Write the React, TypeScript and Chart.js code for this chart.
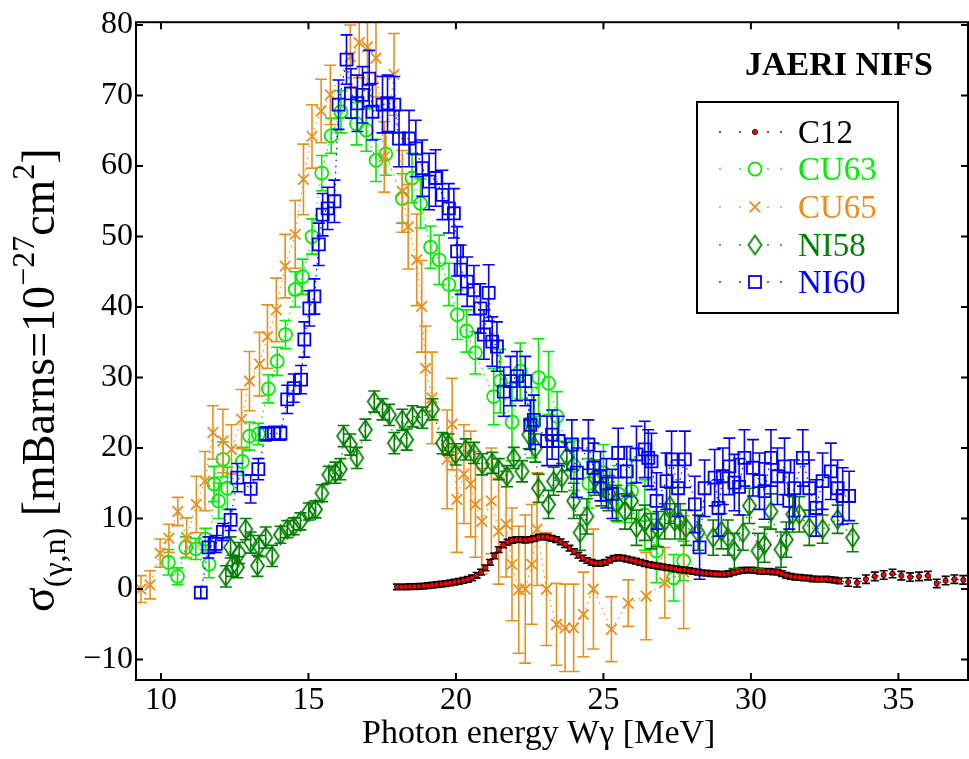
import React, { useEffect, useRef } from 'react';
import { Chart, registerables } from 'chart.js';
Chart.register(...registerables);

const FONT = '"Liberation Serif", "Times New Roman", serif';

const xTicks = [10, 15, 20, 25, 30, 35];
const yTicks = [-10, 0, 10, 20, 30, 40, 50, 60, 70, 80];
const seriesNames = ['C12', 'CU63', 'CU65', 'NI58', 'NI60'];

const C12_COLOR = '#ff0000';
const CU63_COLOR = '#00ee00';
const CU65_COLOR = '#e8901e';
const NI58_COLOR = '#007f00';
const NI60_COLOR = '#0000ff';

// C12
const c12E = [
  18.00, 18.15, 18.30, 18.45, 18.60, 18.75, 18.90, 19.05, 19.20, 19.35,
  19.50, 19.65, 19.80, 19.95, 20.10, 20.25, 20.40, 20.55, 20.70, 20.85,
  21.00, 21.15, 21.30, 21.45, 21.60, 21.75, 21.90, 22.05, 22.20, 22.35,
  22.50, 22.65, 22.80, 22.95, 23.10, 23.25, 23.40, 23.55, 23.70, 23.85,
  24.00, 24.15, 24.30, 24.45, 24.60, 24.75, 24.90, 25.05, 25.20, 25.35,
  25.50, 25.65, 25.80, 25.95, 26.10, 26.25, 26.40, 26.55, 26.70, 26.85,
  27.00, 27.15, 27.30, 27.45, 27.60, 27.75, 27.90, 28.05, 28.20, 28.35,
  28.50, 28.65, 28.80, 28.95, 29.10, 29.25, 29.40, 29.55, 29.70, 29.85,
  30.00, 30.15, 30.30, 30.45, 30.60, 30.75, 30.90, 31.05, 31.20, 31.35,
  31.50, 31.65, 31.80, 31.95, 32.10, 32.25, 32.40, 32.55, 32.70, 32.85,
  33.00,
  33.30, 33.60, 33.90, 34.20, 34.50, 34.80, 35.10, 35.40, 35.70, 36.00, 36.30, 36.60, 36.90, 37.20,
];
const c12S = [
  0.30, 0.30, 0.32, 0.33, 0.35, 0.38, 0.42, 0.48, 0.55, 0.62,
  0.70, 0.78, 0.88, 0.98, 1.10, 1.22, 1.38, 1.60, 1.95, 2.40,
  3.00, 3.80, 4.70, 5.60, 6.25, 6.65, 6.90, 7.00, 7.00, 6.95,
  7.00, 7.15, 7.35, 7.40, 7.35, 7.20, 7.00, 6.70, 6.30, 5.80,
  5.30, 4.80, 4.40, 4.05, 3.80, 3.65, 3.65, 3.80, 4.10, 4.35,
  4.45, 4.40, 4.25, 4.10, 3.95, 3.80, 3.60, 3.45, 3.35, 3.25,
  3.15, 3.05, 2.95, 2.85, 2.75, 2.70, 2.60, 2.50, 2.40, 2.30,
  2.25, 2.20, 2.15, 2.10, 2.10, 2.20, 2.40, 2.55, 2.65, 2.70,
  2.70, 2.65, 2.55, 2.50, 2.50, 2.45, 2.40, 2.20, 1.95, 1.80,
  1.70, 1.65, 1.60, 1.55, 1.45, 1.40, 1.40, 1.40, 1.35, 1.25,
  1.15,
  1.00, 0.90, 1.40, 1.80, 2.00, 2.20, 1.90, 1.70, 1.80, 1.90, 0.80, 1.20, 1.40, 1.30,
];
const c12Err = [
  0.4, 0.4, 0.4, 0.4, 0.4, 0.4, 0.4, 0.4, 0.4, 0.4,
  0.4, 0.4, 0.4, 0.4, 0.4, 0.4, 0.4, 0.4, 0.4, 0.4,
  0.4, 0.4, 0.4, 0.4, 0.4, 0.4, 0.4, 0.4, 0.4, 0.4,
  0.4, 0.4, 0.4, 0.4, 0.4, 0.4, 0.4, 0.4, 0.4, 0.4,
  0.4, 0.4, 0.4, 0.4, 0.4, 0.4, 0.4, 0.4, 0.4, 0.4,
  0.4, 0.4, 0.4, 0.4, 0.4, 0.4, 0.4, 0.4, 0.4, 0.4,
  0.4, 0.4, 0.4, 0.4, 0.4, 0.4, 0.4, 0.4, 0.4, 0.4,
  0.4, 0.4, 0.4, 0.4, 0.4, 0.4, 0.4, 0.4, 0.4, 0.4,
  0.4, 0.4, 0.4, 0.4, 0.4, 0.4, 0.4, 0.4, 0.4, 0.4,
  0.4, 0.4, 0.4, 0.4, 0.4, 0.4, 0.4, 0.4, 0.4, 0.4,
  0.4,
  0.6, 0.6, 0.6, 0.6, 0.6, 0.6, 0.6, 0.6, 0.6, 0.6, 0.6, 0.6, 0.6, 0.6,
];

// CU63
const cu63E = [
  10.25, 10.56, 10.84, 11.18, 11.50, 11.63, 11.80, 11.95, 12.10, 12.25,
  12.76, 13.00, 13.30, 13.64, 13.94, 14.22, 14.55, 14.80, 15.12, 15.45,
  15.77, 16.10, 16.63, 16.96, 17.29, 17.62, 18.18, 18.51, 18.80, 19.14,
  19.43, 19.76, 20.05, 20.36, 20.66, 21.28, 21.50, 21.90, 22.18, 22.57,
  22.80, 23.14, 23.43, 24.00, 24.50, 25.00, 25.50, 25.95, 26.40, 26.80,
  27.38, 27.72,
];
const cu63S = [
  3.8, 1.8, 5.9, 5.7, 7.1, 3.5, 14.9, 12.5, 18.4, 14.3,
  18.1, 21.7, 22.0, 28.4, 32.3, 36.1, 42.5, 44.3, 50.0, 59.0,
  64.3, 67.7, 66.0, 65.1, 60.8, 61.7, 55.4, 58.3, 54.7, 48.5,
  46.7, 43.2, 38.9, 36.6, 33.5, 27.3, 29.5, 23.7, 30.9, 23.6,
  30.0, 29.2, 24.5, 17.5, 15.0, 16.5, 13.5, 13.9, 10.5, 5.4,
  1.6, 4.0,
];
const cu63Err = [
  1.8, 1.2, 1.5, 1.5, 1.5, 1.9, 2.5, 2.5, 2.5, 3.0,
  2.0, 2.0, 1.5, 2.0, 2.0, 2.0, 2.5, 2.5, 2.5, 2.5,
  2.5, 3.0, 3.0, 3.0, 3.0, 3.0, 3.5, 3.5, 3.5, 3.0,
  3.5, 3.0, 3.5, 3.0, 3.0, 4.0, 4.5, 5.5, 4.0, 5.0,
  5.5, 4.5, 3.5, 3.5, 3.5, 4.0, 4.0, 4.5, 5.0, 4.5,
  3.3, 2.8,
];

// CU65
const cu65E = [
  9.32, 9.63, 9.97, 10.27, 10.57, 10.87, 11.20, 11.49, 11.76, 12.10,
  12.39, 12.73, 13.00, 13.34, 13.61, 13.91, 14.21, 14.55, 14.83, 15.12,
  15.43, 15.74, 16.42, 16.72, 17.00, 17.29, 17.57, 17.90, 18.18, 18.38,
  18.67, 18.84, 18.97, 19.19, 19.70, 19.87, 20.03, 20.27, 20.50, 20.66,
  20.88, 21.20, 21.45, 21.70, 21.90, 22.13, 22.35, 22.57, 22.75, 23.07,
  23.41, 23.70, 23.99, 24.32, 24.66, 25.27, 25.84, 26.45, 27.08, 27.72,
];
const cu65S = [
  0.0, 0.6, 5.1, 7.2, 11.0, 7.3, 12.0, 15.3, 22.2, 21.0,
  19.8, 24.1, 29.5, 31.9, 35.8, 39.6, 45.8, 50.3, 58.1, 64.2,
  67.8, 70.1, 75.5, 77.5, 76.9, 75.3, 61.3, 73.0, 56.4, 51.4,
  46.7, 40.1, 31.3, 27.1, 18.4, 23.4, 12.7, 16.3, 14.9, 12.0,
  9.6, 12.5, 8.2, 9.2, 3.5, -0.1, 0.0, 3.5, 8.5, 0.0,
  -5.0, -5.5, -5.5, -3.6, 0.0, -5.7, -2.0, -1.0, 0.9, 2.4,
];
const cu65Err = [
  1.9, 2.0, 2.0, 2.0, 2.0, 2.8, 4.0, 4.2, 3.8, 4.5,
  3.5, 4.2, 4.2, 4.5, 4.5, 4.5, 4.5, 4.8, 5.0, 4.5,
  4.5, 4.2, 4.5, 5.0, 5.5, 5.5, 5.0, 5.8, 5.8, 6.0,
  6.5, 6.5, 6.0, 6.5, 7.0, 6.5, 7.5, 7.0, 7.5, 7.5,
  7.5, 7.5, 7.5, 7.5, 8.0, 9.0, 10.5, 8.5, 8.0, 8.0,
  5.8, 6.2, 6.2, 6.0, 8.5, 4.6, 3.3, 6.2, 5.0, 8.0,
];

// NI58
const ni58E = [
  12.20, 12.36, 12.42, 12.59, 12.65, 12.87, 13.04, 13.27, 13.32, 13.55,
  13.77, 14.05, 14.28, 14.50, 14.73, 15.01, 15.24, 15.46, 15.69, 15.91,
  16.08, 16.19, 16.42, 16.64, 16.93, 17.23, 17.51, 17.74, 17.91, 18.18,
  18.33, 18.53, 18.86, 19.20, 19.54, 19.75, 19.99, 20.33, 20.61, 20.89,
  21.23, 21.45, 21.73, 21.96, 22.24, 22.47, 22.69, 22.80, 23.14, 23.31,
  23.59, 23.76, 23.99, 24.21, 24.44, 24.71, 24.93, 25.17, 25.44, 25.73,
  25.95, 26.12, 26.40, 26.63, 26.86, 27.08, 27.25, 27.42, 27.60, 27.80,
  28.21, 28.72, 29.00, 29.22, 29.44, 29.73, 29.95, 30.24, 30.46, 30.68,
  31.02, 31.20, 31.42, 31.64, 31.98, 32.43, 32.94, 33.45,
];
const ni58S = [
  1.8, 5.9, 3.3, 3.1, 5.1, 8.5, 6.6, 3.3, 6.1, 7.3,
  4.7, 7.7, 8.5, 8.9, 9.6, 11.0, 11.3, 13.6, 16.2, 16.5,
  17.0, 21.7, 20.5, 18.6, 22.6, 26.6, 25.5, 24.7, 20.7, 24.0,
  21.2, 24.5, 24.3, 25.5, 20.7, 20.5, 19.1, 19.8, 19.3, 17.7,
  17.9, 17.0, 16.0, 18.6, 16.7, 21.9, 20.0, 14.3, 12.0, 15.3,
  15.8, 18.8, 12.5, 8.0, 10.3, 15.8, 14.3, 13.6, 12.2, 11.0,
  12.5, 8.7, 9.4, 8.2, 8.5, 9.6, 11.8, 9.6, 9.6, 8.7,
  8.0, 7.3, 8.2, 7.3, 5.4, 8.0, 11.8, 5.4, 6.3, 11.0,
  5.6, 7.0, 10.6, 10.6, 8.7, 8.5, 9.9, 7.3,
];
const ni58Err = [
  1.5, 1.5, 1.5, 1.5, 1.5, 1.5, 1.5, 1.5, 1.5, 1.5,
  1.5, 1.2, 1.2, 1.2, 1.2, 1.2, 1.2, 1.2, 1.2, 1.5,
  1.5, 1.5, 1.5, 1.5, 1.5, 1.5, 1.5, 1.5, 1.5, 1.5,
  1.5, 1.5, 1.5, 1.5, 1.5, 1.5, 1.5, 1.5, 1.5, 1.5,
  1.5, 1.5, 1.5, 1.5, 1.5, 2.0, 2.0, 2.0, 2.0, 2.0,
  2.0, 2.0, 2.5, 2.5, 2.5, 2.5, 2.5, 2.5, 2.5, 2.5,
  2.5, 2.5, 2.5, 2.5, 2.5, 2.5, 2.5, 2.5, 2.5, 2.5,
  2.5, 2.5, 2.5, 2.5, 2.5, 2.5, 2.5, 2.5, 2.5, 2.5,
  2.5, 2.5, 2.5, 2.5, 2.5, 2.0, 2.0, 2.0,
];

// NI60
const ni60E = [
  11.35, 11.61, 11.86, 12.10, 12.36, 12.59, 13.04, 13.30, 13.55, 13.83,
  14.05, 14.28, 14.50, 14.75, 14.86, 15.03, 15.20, 15.35, 15.48, 15.65,
  15.88, 16.02, 16.29, 16.44, 16.66, 16.83, 17.06, 17.17, 17.51, 17.68,
  17.91, 18.07, 18.41, 18.64, 18.86, 19.09, 19.31, 19.54, 19.76, 19.93,
  20.04, 20.16, 20.38, 20.61, 20.83, 20.95, 21.11, 21.23, 21.39, 21.62,
  21.85, 22.07, 22.35, 22.52, 22.64, 23.09, 23.26, 23.48, 23.93, 24.10,
  24.49, 24.66, 24.90, 25.10, 25.30, 25.50, 25.79, 26.12, 26.40, 26.52,
  26.63, 26.80, 27.14, 27.31, 27.53, 27.76, 28.10, 28.26, 28.43, 28.77,
  28.90, 29.05, 29.27, 29.44, 29.60, 29.78, 30.07, 30.29, 30.46, 30.68,
  30.90, 31.14, 31.30, 31.47, 31.76, 31.98, 32.21, 32.43, 32.71, 32.94,
  33.11, 33.33,
];
const ni60S = [
  -0.5, 5.9, 6.4, 8.1, 9.8, 15.8, 14.2, 17.0, 22.0, 22.1,
  22.1, 26.9, 28.5, 29.7, 35.4, 39.8, 41.5, 48.9, 53.1, 54.0,
  55.0, 68.7, 75.1, 70.3, 68.9, 70.1, 72.4, 67.7, 68.7, 68.9,
  68.7, 63.9, 63.9, 62.5, 59.7, 57.8, 58.3, 55.9, 54.0, 53.3,
  47.9, 45.3, 43.6, 42.4, 39.8, 36.1, 42.0, 35.1, 34.4, 28.0,
  29.5, 30.2, 29.5, 23.3, 24.0, 21.0, 21.9, 21.0, 20.5, 16.5,
  20.5, 17.2, 16.0, 15.0, 13.5, 19.3, 16.7, 19.1, 19.8, 18.6,
  18.1, 12.5, 15.3, 18.4, 14.3, 18.4, 12.0, 5.9, 14.3, 15.8,
  11.5, 16.0, 17.4, 15.1, 14.5, 18.6, 17.2, 15.3, 13.9, 18.6,
  16.0, 17.4, 12.5, 14.3, 18.6, 14.3, 11.5, 15.3, 16.7, 14.3,
  13.2, 13.2,
];
const ni60Err = [
  0.8, 1.5, 1.2, 1.2, 1.5, 2.0, 2.0, 1.5, 1.0, 1.0,
  1.0, 2.0, 2.0, 2.0, 2.5, 2.5, 2.5, 3.0, 3.0, 3.0,
  3.0, 3.5, 3.5, 3.5, 4.0, 4.0, 4.0, 4.0, 4.0, 4.0,
  4.0, 4.0, 4.0, 4.0, 4.0, 4.0, 4.0, 3.5, 3.5, 3.5,
  3.5, 3.5, 3.5, 3.5, 3.5, 3.5, 4.0, 3.5, 3.5, 3.5,
  3.5, 3.5, 3.5, 3.5, 3.5, 3.5, 3.5, 3.5, 3.5, 3.5,
  3.5, 3.5, 3.5, 3.5, 3.5, 3.5, 3.5, 4.0, 4.0, 4.0,
  4.0, 4.0, 4.0, 4.0, 4.0, 4.0, 4.0, 4.5, 4.0, 4.0,
  4.0, 4.0, 4.0, 4.0, 4.0, 4.0, 4.0, 4.0, 4.0, 4.0,
  4.0, 4.0, 4.0, 4.0, 4.0, 4.0, 4.0, 4.0, 4.0, 4.0,
  4.0, 3.5,
];

const toPts = (e: number[], s: number[]) => e.map((x, i) => ({ x, y: s[i] }));

function makeDiamond(): HTMLCanvasElement {
  const c = document.createElement('canvas');
  c.width = 17;
  c.height = 23;
  const g = c.getContext('2d')!;
  g.strokeStyle = NI58_COLOR;
  g.lineWidth = 1.8;
  g.beginPath();
  g.moveTo(8.5, 2);
  g.lineTo(15, 11.5);
  g.lineTo(8.5, 21);
  g.lineTo(2, 11.5);
  g.closePath();
  g.stroke();
  return c;
}

function drawMarker(ctx: CanvasRenderingContext2D, kind: string, x: number, y: number, diamond: HTMLCanvasElement) {
  ctx.save();
  ctx.lineWidth = 1.8;
  if (kind === 'C12') {
    ctx.fillStyle = C12_COLOR;
    ctx.strokeStyle = '#000';
    ctx.lineWidth = 0.8;
    ctx.beginPath();
    ctx.arc(x, y, 2.6, 0, Math.PI * 2);
    ctx.fill();
    ctx.stroke();
  } else if (kind === 'CU63') {
    ctx.strokeStyle = CU63_COLOR;
    ctx.beginPath();
    ctx.arc(x, y, 6.5, 0, Math.PI * 2);
    ctx.stroke();
  } else if (kind === 'CU65') {
    ctx.strokeStyle = CU65_COLOR;
    const h = 5.3;
    ctx.beginPath();
    ctx.moveTo(x - h, y - h);
    ctx.lineTo(x + h, y + h);
    ctx.moveTo(x - h, y + h);
    ctx.lineTo(x + h, y - h);
    ctx.stroke();
  } else if (kind === 'NI58') {
    ctx.drawImage(diamond, x - diamond.width / 2, y - diamond.height / 2);
  } else {
    ctx.strokeStyle = NI60_COLOR;
    ctx.strokeRect(x - 6, y - 6, 12, 12);
  }
  ctx.restore();
}

export default function App() {
  const ref = useRef<HTMLCanvasElement>(null);

  useEffect(() => {
    const canvas = ref.current!;
    const diamond = makeDiamond();

    const lineBase = { showLine: true, borderDash: [1.5, 4.5], borderWidth: 1.2, tension: 0, pointHoverRadius: 0 };

    const datasets: any[] = [
      {
        ...lineBase, label: 'NI60', order: 0, data: toPts(ni60E, ni60S), errs: ni60Err, errColor: NI60_COLOR, cap: 6,
        borderColor: NI60_COLOR, pointStyle: 'rect', pointRadius: 8.5, pointBorderWidth: 1.8,
        pointBorderColor: NI60_COLOR, pointBackgroundColor: 'rgba(0,0,0,0)',
      },
      {
        ...lineBase, label: 'NI58', order: 1, data: toPts(ni58E, ni58S), errs: ni58Err, errColor: NI58_COLOR, cap: 6,
        borderColor: NI58_COLOR, pointStyle: diamond, pointRadius: 8,
        pointBorderColor: NI58_COLOR, pointBackgroundColor: 'rgba(0,0,0,0)',
      },
      {
        ...lineBase, label: 'C12', order: 2, data: toPts(c12E, c12S), errs: c12Err, errColor: '#000', cap: 4,
        borderColor: '#000', pointStyle: 'circle', pointRadius: 2.6, pointBorderWidth: 0.8,
        pointBorderColor: '#000', pointBackgroundColor: C12_COLOR,
      },
      {
        ...lineBase, label: 'CU65', order: 3, data: toPts(cu65E, cu65S), errs: cu65Err, errColor: CU65_COLOR, cap: 6,
        borderColor: CU65_COLOR, pointStyle: 'crossRot', pointRadius: 7.5, pointBorderWidth: 1.8,
        pointBorderColor: CU65_COLOR, pointBackgroundColor: 'rgba(0,0,0,0)',
      },
      {
        ...lineBase, label: 'CU63', order: 4, data: toPts(cu63E, cu63S), errs: cu63Err, errColor: CU63_COLOR, cap: 6,
        borderColor: CU63_COLOR, pointStyle: 'circle', pointRadius: 6.5, pointBorderWidth: 1.8,
        pointBorderColor: CU63_COLOR, pointBackgroundColor: 'rgba(0,0,0,0)',
      },
    ];

    const bgPlugin = {
      id: 'bg',
      beforeDraw(chart: any) {
        const ctx = chart.ctx;
        ctx.save();
        ctx.fillStyle = '#fff';
        ctx.fillRect(0, 0, chart.width, chart.height);
        ctx.restore();
      },
    };

    const errPlugin = {
      id: 'errbars',
      beforeDatasetDraw(chart: any, args: any) {
        const ds = chart.data.datasets[args.index];
        if (!ds.errs) return;
        const ys = chart.scales.y;
        const a = chart.chartArea;
        const ctx = chart.ctx;
        ctx.save();
        ctx.beginPath();
        ctx.rect(a.left, a.top, a.right - a.left, a.bottom - a.top);
        ctx.clip();
        ctx.strokeStyle = ds.errColor;
        ctx.lineWidth = 1.6;
        const cap = ds.cap;
        ctx.beginPath();
        args.meta.data.forEach((pt: any, i: number) => {
          const v = ds.data[i].y;
          const e = ds.errs[i];
          const x = pt.x;
          const y1 = ys.getPixelForValue(v + e);
          const y2 = ys.getPixelForValue(v - e);
          ctx.moveTo(x, y1);
          ctx.lineTo(x, y2);
          ctx.moveTo(x - cap, y1);
          ctx.lineTo(x + cap, y1);
          ctx.moveTo(x - cap, y2);
          ctx.lineTo(x + cap, y2);
        });
        ctx.stroke();
        ctx.restore();
      },
    };

    const decoPlugin = {
      id: 'deco',
      afterDraw(chart: any) {
        const ctx = chart.ctx as CanvasRenderingContext2D;
        const a = chart.chartArea;
        const xs = chart.scales.x;
        const ys = chart.scales.y;
        ctx.save();
        // frame
        ctx.strokeStyle = '#000';
        ctx.lineWidth = 2;
        ctx.strokeRect(a.left, a.top, a.right - a.left, a.bottom - a.top);
        const tl = 7;
        ctx.beginPath();
        xTicks.forEach((v) => {
          const px = xs.getPixelForValue(v);
          ctx.moveTo(px, a.bottom);
          ctx.lineTo(px, a.bottom - tl);
          ctx.moveTo(px, a.top);
          ctx.lineTo(px, a.top + tl);
        });
        yTicks.forEach((v) => {
          const py = ys.getPixelForValue(v);
          ctx.moveTo(a.left, py);
          ctx.lineTo(a.left + tl, py);
          ctx.moveTo(a.right, py);
          ctx.lineTo(a.right - tl, py);
        });
        ctx.stroke();

        // x title
        ctx.fillStyle = '#000';
        ctx.font = `34px ${FONT}`;
        ctx.textBaseline = 'alphabetic';
        ctx.textAlign = 'left';
        ctx.fillText('Photon energy W\u03b3 [MeV]', 362, 743);

        // y title (rotated, with sub/superscripts)
        ctx.save();
        ctx.translate(54, 612);
        ctx.rotate(-Math.PI / 2);
        let cx = 0;
        const part = (t: string, size: number, dy: number) => {
          ctx.font = `${size}px ${FONT}`;
          ctx.fillText(t, cx, dy);
          cx += ctx.measureText(t).width;
        };
        part('\u03c3', 46, 0);
        part('(\u03b3,n)', 32, 11);
        part(' [mBarns=10', 46, 0);
        part('\u221227', 32, -20);
        part('cm', 46, 0);
        part('2', 32, -20);
        part(']', 46, 0);
        ctx.restore();

        // Title box text
        ctx.font = `bold 34px ${FONT}`;
        ctx.fillText('JAERI NIFS', 745, 75);

        // legend
        ctx.fillStyle = '#fff';
        ctx.fillRect(697, 102, 201, 211);
        ctx.strokeStyle = '#000';
        ctx.lineWidth = 2;
        ctx.strokeRect(697, 102, 201, 211);
        const colors = ['#000', CU63_COLOR, CU65_COLOR, NI58_COLOR, NI60_COLOR];
        const rows = [132, 169, 207, 245, 282];
        seriesNames.forEach((name, i) => {
          const y = rows[i];
          ctx.fillStyle = colors[i];
          [720, 740, 768, 781].forEach((dx) => ctx.fillRect(dx - 0.8, y - 0.8, 1.6, 1.6));
          drawMarker(ctx, name, 755, y, diamond);
          ctx.fillStyle = colors[i];
          ctx.font = `33px ${FONT}`;
          ctx.textAlign = 'left';
          ctx.textBaseline = 'alphabetic';
          ctx.fillText(name, 798, y + 11);
        });
        ctx.restore();
      },
    };

    const chart = new Chart(canvas, {
      type: 'scatter',
      data: { datasets },
      options: {
        responsive: false,
        animation: false,
        devicePixelRatio: 1,
        events: [],
        layout: { autoPadding: false, padding: { top: 20, right: 1, left: 0, bottom: 0 } },
        plugins: { legend: { display: false }, tooltip: { enabled: false }, title: { display: false } },
        scales: {
          x: {
            type: 'linear',
            min: 9.153,
            max: 37.36,
            afterBuildTicks: (s: any) => { s.ticks = xTicks.map((v) => ({ value: v })); },
            afterFit: (s: any) => { s.height = 79; },
            grid: { display: false, drawTicks: false },
            border: { display: false },
            ticks: { color: '#000', font: { family: FONT, size: 32 }, padding: 1, maxRotation: 0, autoSkip: false },
          },
          y: {
            type: 'linear',
            min: -12.9,
            max: 80.4,
            afterBuildTicks: (s: any) => { s.ticks = yTicks.map((v) => ({ value: v })); },
            afterFit: (s: any) => { s.width = 136; },
            grid: { display: false, drawTicks: false },
            border: { display: false },
            ticks: {
              color: '#000',
              font: { family: FONT, size: 32 },
              padding: 3,
              autoSkip: false,
              callback: (v: any) => (v < 0 ? '\u2212' + Math.abs(v) : String(v)),
            },
          },
        },
      } as any,
      plugins: [bgPlugin, errPlugin, decoPlugin],
    });

    return () => chart.destroy();
  }, []);

  return (
    <div style={{ position: 'fixed', left: 0, top: 0, width: 969, height: 759, background: '#fff' }}>
      <canvas ref={ref} width={969} height={759} style={{ display: 'block', width: 969, height: 759 }} />
    </div>
  );
}
